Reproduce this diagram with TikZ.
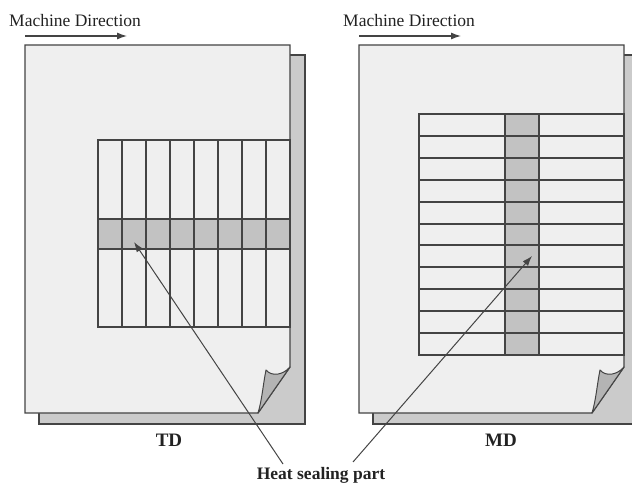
\documentclass[tikz,border=0pt]{standalone}
\usepackage{fontspec}
\setmainfont{Liberation Serif}
\usetikzlibrary{arrows.meta}
\definecolor{edgegray}{HTML}{444444}
\definecolor{pagegray}{HTML}{EFEFEF}
\definecolor{backgray}{HTML}{CBCBCB}
\definecolor{sealgray}{HTML}{C2C2C2}
\definecolor{flapgray}{HTML}{B4B4B4}
\definecolor{inkgray}{HTML}{222222}
\begin{document}
\begin{tikzpicture}[x=1pt,y=-1pt,
    sheet/.style={draw=edgegray,line width=1.3pt,fill=pagegray},
    backsheet/.style={draw=edgegray,line width=1.3pt,fill=backgray},
    flap/.style={draw=edgegray,line width=1pt,fill=flapgray,line join=round},
    gridline/.style={draw=edgegray,line width=1.3pt},
    pointer/.style={draw=edgegray,line width=1pt,-{Latex[length=10pt,width=7pt]}},
    label/.style={text=inkgray,inner sep=0pt,font=\fontsize{17.5}{20}\selectfont},
    title/.style={label,font=\fontsize{19}{22}\selectfont\bfseries}]
  \clip (0,0) rectangle (632,484);
  % the two sheets, TD on the left and MD shifted by 334
  \foreach \s in {0,334} {
    \draw[backsheet,xshift=\s] (39,55) rectangle (305,424);
    \draw[sheet,xshift=\s] (25,45) -- (290,45) -- (290,367) -- (258,413) -- (25,413) -- cycle;
  }
  % TD grid with the sealing band across
  \fill[sealgray] (98,219) rectangle (290,249);
  \draw[gridline] (98,140) rectangle (290,327);
  \foreach \x in {1,...,7}
    \draw[gridline] (98+24*\x,140) -- +(0,187);
  \draw[gridline] (98,219) -- (290,219) (98,249) -- (290,249);
  % MD grid with the sealing band down
  \fill[sealgray] (505,114) rectangle (539,355);
  \draw[gridline] (419,114) rectangle (624,355);
  \foreach \y in {136,158,180,202,224,245,267,289,311,333}
    \draw[gridline] (419,\y) -- +(205,0);
  \draw[gridline] (505,114) -- (505,355) (539,114) -- (539,355);
  % curled corners
  \foreach \s in {0,334}
    \draw[flap,xshift=\s] (266,370) .. controls (272,377) and (283,375) .. (290,367)
      -- (258,413) .. controls (262,400) and (263,385) .. (266,370) -- cycle;
  % machine direction
  \node[label,anchor=base west] (tdmachine) at (9,27) {Machine Direction};
  \node[label,anchor=base west] (mdmachine) at (343,27) {Machine Direction};
  \draw[pointer,line width=1.2pt] (25,36) -- +(102,0);
  \draw[pointer,line width=1.2pt] (359,36) -- +(102,0);
  % captions
  \node[title] (td) at (169,440) {TD};
  \node[title] (md) at (501,440) {MD};
  \node[title,font=\fontsize{17.5}{20}\selectfont\bfseries] (heat) at (321,475) {Heat sealing part};
  \coordinate (tdfoot) at (283,464);
  \coordinate (mdfoot) at (353,462);
  \coordinate (tdseal) at (134,242);
  \coordinate (mdseal) at (532,256);
  \draw[pointer] (tdfoot) -- (tdseal);
  \draw[pointer] (mdfoot) -- (mdseal);
\end{tikzpicture}
\end{document}
